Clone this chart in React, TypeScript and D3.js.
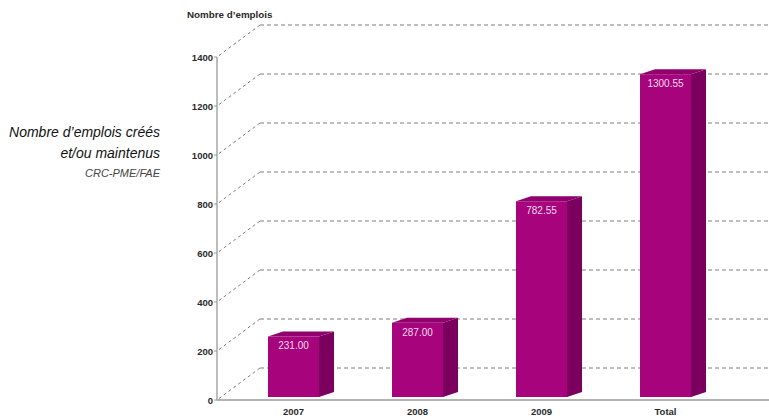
import React from "react";
import * as d3 from "d3";

const categories = ["2007", "2008", "2009", "Total"];
const values = [231.0, 287.0, 782.55, 1300.55];
const yTicks = [0, 200, 400, 600, 800, 1000, 1200, 1400];
const axisTitle = "Nombre d\u2019emplois";
const sideTitle = ["Nombre d\u2019emplois créés", "et/ou maintenus"];
const sideSource = "CRC-PME/FAE";

const W = 769;
const H = 419;
const FONT = "'Liberation Sans', Arial, Helvetica, sans-serif";

export default function App() {
  const axisX = 217;
  const y = d3.scaleLinear().domain([0, 1400]).range([400, 57]);
  const x = d3.scalePoint<string>().domain(categories).range([293.5, 665.5]);
  const wallDx = 43;
  const wallDy = -32;
  const barW = 51;
  const depthX = 15;
  const depthY = -5;
  const barBase = y(0) - 3;
  const barLift = 7;
  const fmt = d3.format(".2f");

  return (
    <svg
      width={W}
      height={H}
      style={{ position: "absolute", left: 0, top: 0, display: "block", background: "#fff" }}
      fontFamily={FONT}
    >
      {/* back wall grid */}
      {yTicks.map((t) => {
        const yy = y(t);
        return (
          <g key={"g" + t}>
            <line
              x1={axisX + 2}
              y1={yy - 1.5}
              x2={axisX + wallDx}
              y2={yy + wallDy}
              stroke="#6e6e6e"
              strokeWidth={0.9}
              strokeDasharray="3,3"
            />
            <line
              x1={axisX + wallDx}
              y1={yy + wallDy}
              x2={W}
              y2={yy + wallDy}
              stroke="#6e6e6e"
              strokeWidth={0.9}
              strokeDasharray="4,3"
            />
          </g>
        );
      })}

      {/* bars */}
      {categories.map((c, i) => {
        const cx = x(c) as number;
        const x0 = cx - barW / 2;
        const x1 = cx + barW / 2;
        const top = y(values[i]) - barLift;
        const bot = barBase;
        const front = `M${x0},${top}L${x1},${top}L${x1},${bot}L${x0},${bot}Z`;
        const side = `M${x1},${top}L${x1 + depthX},${top + depthY}L${x1 + depthX},${bot + depthY}L${x1},${bot}Z`;
        const topFace = `M${x0},${top}L${x0 + depthX},${top + depthY}L${x1 + depthX},${top + depthY}L${x1},${top}Z`;
        return (
          <g key={c}>
            <path d={side} fill="#7b005d" />
            <path d={topFace} fill="#8f006d" />
            <path d={front} fill="#a6037d" />
            <text
              x={cx}
              y={top + 13}
              textAnchor="middle"
              fontSize={10}
              fill="#f3dcec"
            >
              {fmt(values[i])}
            </text>
            <text
              x={cx}
              y={415}
              textAnchor="middle"
              fontSize={9.5}
              fontWeight="bold"
              fill="#2a2a2a"
            >
              {c}
            </text>
          </g>
        );
      })}

      {/* axes */}
      <line x1={axisX} y1={y(1400)} x2={axisX} y2={y(0)} stroke="#9a9a9a" strokeWidth={1.3} />
      <line x1={axisX} y1={y(0)} x2={W} y2={y(0)} stroke="#9a9a9a" strokeWidth={1.3} />
      {yTicks.map((t) => (
        <g key={"t" + t}>
          <line x1={axisX - 3} y1={y(t)} x2={axisX} y2={y(t)} stroke="#9a9a9a" strokeWidth={1} />
          <text
            x={axisX - 4}
            y={y(t) + 3.5}
            textAnchor="end"
            fontSize={9.5}
            fontWeight="bold"
            fill="#2a2a2a"
          >
            {t}
          </text>
        </g>
      ))}

      <text x={187} y={18} fontSize={9.8} fontWeight="bold" fill="#2a2a2a">
        {axisTitle}
      </text>

      {/* side titles */}
      <text x={160} y={137} textAnchor="end" fontSize={14} fontStyle="italic" fill="#111">
        {sideTitle[0]}
      </text>
      <text x={160} y={158} textAnchor="end" fontSize={14} fontStyle="italic" fill="#111">
        {sideTitle[1]}
      </text>
      <text x={160} y={177} textAnchor="end" fontSize={11} fontStyle="italic" fill="#444">
        {sideSource}
      </text>
    </svg>
  );
}
